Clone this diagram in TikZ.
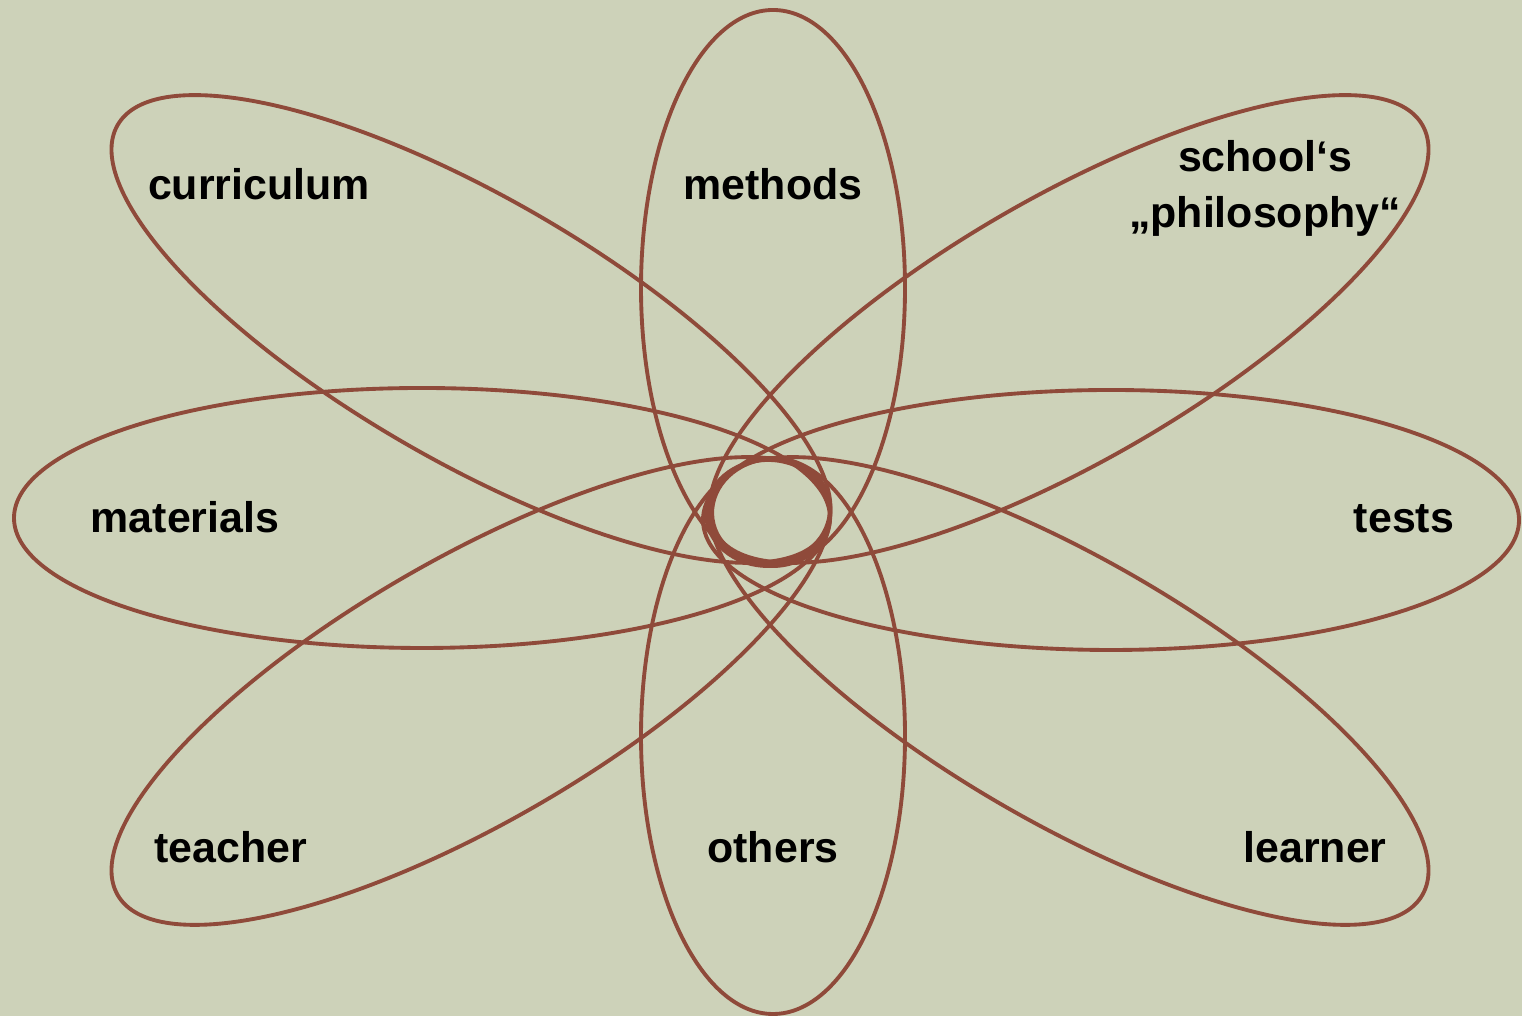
\documentclass[tikz,border=0pt]{standalone}
\usepackage{fontspec}
\setmainfont{Liberation Sans}
\definecolor{sagebg}{RGB}{205,210,185}
\definecolor{petalred}{RGB}{143,74,58}
\begin{document}
\begin{tikzpicture}[x=0.01cm,y=0.01cm,
    petal/.style={draw=petalred,line width=1.1pt},
    lbl/.style={font=\fontsize{12.2}{15.9}\selectfont\bfseries,align=center,anchor=base,inner sep=0pt}]
  \fill[sagebg] (0,0) rectangle (1522,1016);
  \useasboundingbox (0,0) rectangle (1522,1016);
  % vertical and horizontal petals
  \draw[petal] (773,728) ellipse [x radius=132,y radius=278];
  \draw[petal] (773,280) ellipse [x radius=132,y radius=278];
  \draw[petal] (422,498) ellipse [x radius=408,y radius=130];
  \draw[petal] (1111,496) ellipse [x radius=408,y radius=130];
  % diagonal petals
  \foreach \cx/\cy/\ang in {471/687/-30, 1069/687/30, 471/325/30, 1069/325/-30}
    \draw[petal,rotate around={\ang:(\cx,\cy)}] (\cx,\cy) ellipse [x radius=408,y radius=132];
  % hub
  \draw[petal] (768,503) ellipse [x radius=62,y radius=53];
  \draw[petal,rotate around={8:(771,505)}] (771,505) ellipse [x radius=59,y radius=52];
  % labels
  \node[lbl] (curriculum) at (259,816) {curriculum};
  \node[lbl] (methods) at (773,816) {methods};
  \node[lbl,anchor=center] (school) at (1265,828) {school‘s\\„philosophy“};
  \node[lbl] (materials) at (185,483) {materials};
  \node[lbl] (tests) at (1404,483) {tests};
  \node[lbl] (teacher) at (231,153) {teacher};
  \node[lbl] (others) at (773,153) {others};
  \node[lbl] (learner) at (1315,153) {learner};
\end{tikzpicture}
\end{document}
